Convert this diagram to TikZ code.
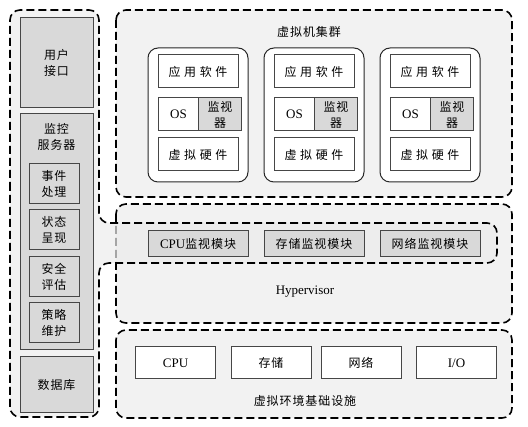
\documentclass[tikz,border=0pt]{standalone}
\usepackage{fontspec}
\setmainfont{Liberation Serif}
\newfontfamily\cjk[Scale=0.92,LetterSpace=8]{Noto Sans CJK SC}
\newfontfamily\cjkwide[Scale=0.92,LetterSpace=30]{Noto Sans CJK SC}
\definecolor{panel}{RGB}{242,242,242}
\definecolor{unionfill}{RGB}{236,236,236}
\definecolor{boxgray}{RGB}{217,217,217}
\definecolor{boxline}{RGB}{70,70,70}
\definecolor{vmline}{RGB}{40,40,40}
\begin{document}
\begin{tikzpicture}[x=1pt,y=-1pt,
  outer/.style={draw=black, line width=1.6pt, dash pattern=on 8pt off 4pt, rounded corners=10pt},
  box/.style={draw=boxline, line width=1pt, inner sep=0pt, align=center,
     font=\fontsize{13}{16}\selectfont},
  graybox/.style={box, fill=boxgray},
  whitebox/.style={box, fill=white},
  vmbox/.style={draw=vmline, line width=1pt, fill=white, rounded corners=10pt,
     minimum width=100pt, minimum height=134pt, inner sep=0pt},
  lbl/.style={inner sep=0pt, align=center, font=\fontsize{13}{16}\selectfont}
]
\useasboundingbox (0,0) rectangle (528,427);

% outer regions
\path[outer, fill=panel] (116,10) rectangle (512,197);
\path[outer, fill=panel] (116,204) rectangle (512,323);
\path[outer, fill=panel] (116,330) rectangle (512,418);
\path[outer, fill=unionfill, fill opacity=0.7]
  (10,200) -- (10,10) -- (99,10) -- (99,223) -- (497,223) -- (497,263)
  -- (99,263) -- (99,417) -- (10,417) -- cycle;

% left panel
\node[graybox, minimum width=73pt, minimum height=90pt] (user) at (56.5,63) {\cjk 用户\\\cjk 接口};
\node[graybox, minimum width=73pt, minimum height=236pt] (server) at (56.5,232) {};
\node[lbl] (serverlbl) at (56.5,137) {\cjk 监控\\\cjk 服务器};
\node[graybox, minimum width=50pt, minimum height=40pt] (evt) at (54,184) {\cjk 事件\\\cjk 处理};
\node[graybox, minimum width=50pt, minimum height=40pt] (state) at (54,230) {\cjk 状态\\\cjk 呈现};
\node[graybox, minimum width=50pt, minimum height=40pt] (sec) at (54,277) {\cjk 安全\\\cjk 评估};
\node[graybox, minimum width=50pt, minimum height=40pt] (policy) at (54,323) {\cjk 策略\\\cjk 维护};
\node[graybox, minimum width=73pt, minimum height=56pt] (db) at (56.5,385) {\cjk 数据库};

% virtual machine cluster
\node[lbl] (clusterlbl) at (309,32) {\cjk 虚拟机集群};
\foreach \i/\xl in {1/148,2/264,3/380}{
  \node[vmbox] (vm\i) at (\xl+50,115) {};
  \node[whitebox, minimum width=80pt, minimum height=33pt] (app\i) at (\xl+50,71.5) {\cjkwide 应用软件};
  \node[whitebox, minimum width=41pt, minimum height=33pt] (os\i) at (\xl+30.5,114.5) {OS};
  \node[graybox, minimum width=43pt, minimum height=33pt] (mon\i) at (\xl+72,114.5) {\cjk 监视\\\cjk 器};
  \node[whitebox, minimum width=80pt, minimum height=33pt] (hw\i) at (\xl+50,154.5) {\cjkwide 虚拟硬件};
}

% monitoring modules
\node[graybox, minimum width=100pt, minimum height=26pt] (cpumod) at (198,244) {CPU{\cjk 监视模块}};
\node[graybox, minimum width=100pt, minimum height=26pt] (stomod) at (314,244) {\cjk 存储监视模块};
\node[graybox, minimum width=100pt, minimum height=26pt] (netmod) at (430,244) {\cjk 网络监视模块};

% hypervisor
\node[lbl] (hyperlbl) at (305,292) {Hypervisor};

% infrastructure
\node[whitebox, minimum width=80pt, minimum height=32pt] (cpu) at (175.5,363) {CPU};
\node[whitebox, minimum width=80pt, minimum height=32pt] (sto) at (271,363) {\cjk 存储};
\node[whitebox, minimum width=80pt, minimum height=32pt] (net) at (361,363) {\cjk 网络};
\node[whitebox, minimum width=80pt, minimum height=32pt] (io) at (456.5,363) {I/O};
\node[lbl] (infralbl) at (305,401) {\cjk 虚拟环境基础设施};
\end{tikzpicture}
\end{document}
